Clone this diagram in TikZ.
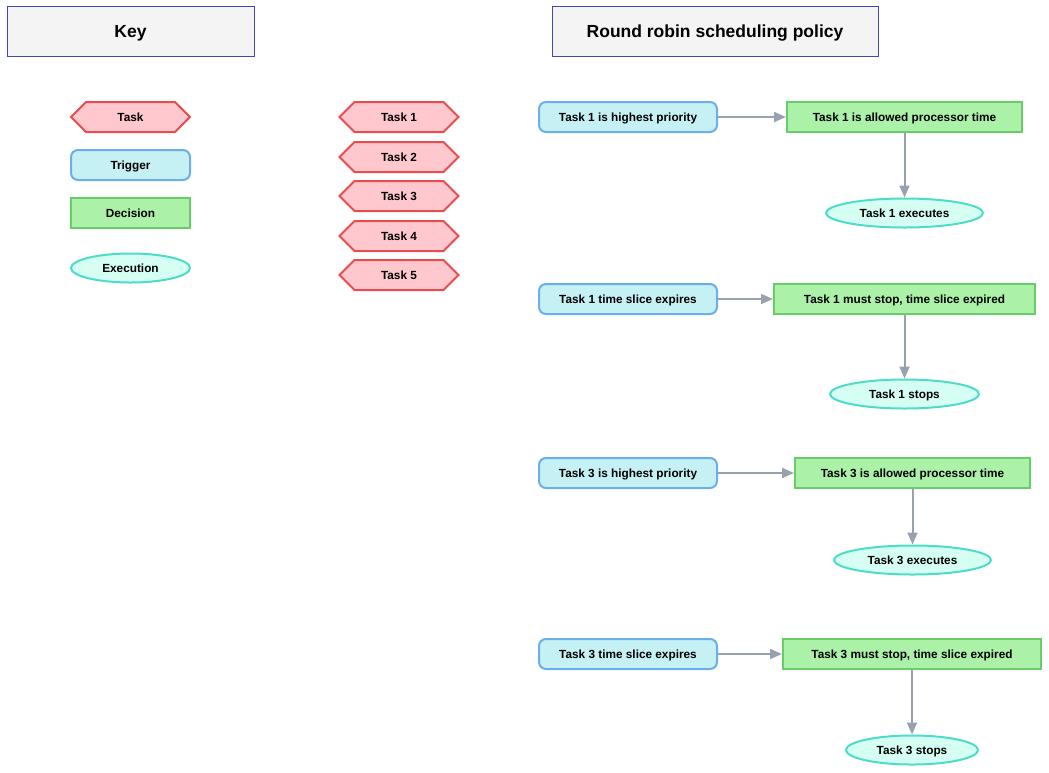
\documentclass[tikz,border=0pt]{standalone}
\usepackage{fontspec}
\setmainfont{Liberation Sans}
\usetikzlibrary{shapes.geometric,shapes.symbols,arrows.meta}

\definecolor{taskfill}{HTML}{FFC7CE}
\definecolor{taskline}{HTML}{E84C4C}
\definecolor{trigfill}{HTML}{C5F1F5}
\definecolor{trigline}{HTML}{6AAEEA}
\definecolor{decfill}{HTML}{ABF2A8}
\definecolor{decline}{HTML}{68CC68}
\definecolor{execfill}{HTML}{D6FFF4}
\definecolor{execline}{HTML}{4CDCC8}
\definecolor{headfill}{HTML}{F4F4F4}
\definecolor{headline}{HTML}{4444BB}
\definecolor{flowgray}{HTML}{98A2AE}

\tikzset{
	box/.style={draw, line width=2pt, inner sep=0pt, minimum height=30pt,
		text height=8.4pt, text depth=0pt,
		font=\fontsize{11.8}{13}\selectfont\bfseries},
	task/.style={box, signal, signal to=east and west, signal pointer angle=90,
		fill=taskfill, draw=taskline, minimum width=119pt},
	trigger/.style={box, rectangle, rounded corners=7pt, fill=trigfill,
		draw=trigline, minimum width=178pt},
	decision/.style={box, rectangle, fill=decfill, draw=decline},
	execution/.style={box, ellipse, fill=execfill, draw=execline, minimum height=29pt},
	heading/.style={draw=headline, fill=headfill, line width=1pt, minimum height=50pt,
		text height=12.5pt, text depth=0pt,
		font=\fontsize{17.5}{20}\selectfont\bfseries},
	flow/.style={draw=flowgray, line width=2pt, -{Triangle[length=12pt, width=10pt]}}
}

\begin{document}
\begin{tikzpicture}[x=1pt, y=-1pt]
	\useasboundingbox (0,0) rectangle (1049,772);

	% headings
	\node[heading, minimum width=247pt] (keyhead) at (130.5,31) {Key};
	\node[heading, minimum width=326pt] (rrhead) at (715,31) {Round robin scheduling policy};

	% key
	\node[task] (ktask) at (130.5,117) {Task};
	\node[trigger, minimum width=119pt] (ktrig) at (130.5,165) {Trigger};
	\node[decision, minimum width=119pt] (kdec) at (130.5,213) {Decision};
	\node[execution, minimum width=119pt] (kexec) at (130.5,268) {Execution};

	% tasks
	\foreach \n/\y in {1/117,2/157,3/196,4/236,5/275}
	{
		\node[task] (task\n) at (399,\y) {Task \n};
	}

	% task 1 gets the processor
	\node[trigger] (trig1) at (628,117) {Task 1 is highest priority};
	\node[decision, minimum width=235pt] (dec1) at (904.5,117) {Task 1 is allowed processor time};
	\node[execution, minimum width=157pt] (exec1) at (904.5,213) {Task 1 executes};
	\draw[flow] (trig1) -- (dec1);
	\draw[flow] (dec1) -- (exec1);

	% task 1 time slice runs out
	\node[trigger] (trig2) at (628,299) {Task 1 time slice expires};
	\node[decision, minimum width=261pt] (dec2) at (904.5,299) {Task 1 must stop, time slice expired};
	\node[execution, minimum width=149pt] (exec2) at (904.5,394) {Task 1 stops};
	\draw[flow] (trig2) -- (dec2);
	\draw[flow] (dec2) -- (exec2);

	% task 3 gets the processor
	\node[trigger] (trig3) at (628,473) {Task 3 is highest priority};
	\node[decision, minimum width=235pt] (dec3) at (912.5,473) {Task 3 is allowed processor time};
	\node[execution, minimum width=157pt] (exec3) at (912.5,560) {Task 3 executes};
	\draw[flow] (trig3) -- (dec3);
	\draw[flow] (dec3) -- (exec3);

	% task 3 time slice runs out
	\node[trigger] (trig4) at (628,654) {Task 3 time slice expires};
	\node[decision, minimum width=258pt] (dec4) at (912,654) {Task 3 must stop, time slice expired};
	\node[execution, minimum width=132pt] (exec4) at (912,750) {Task 3 stops};
	\draw[flow] (trig4) -- (dec4);
	\draw[flow] (dec4) -- (exec4);
\end{tikzpicture}
\end{document}
